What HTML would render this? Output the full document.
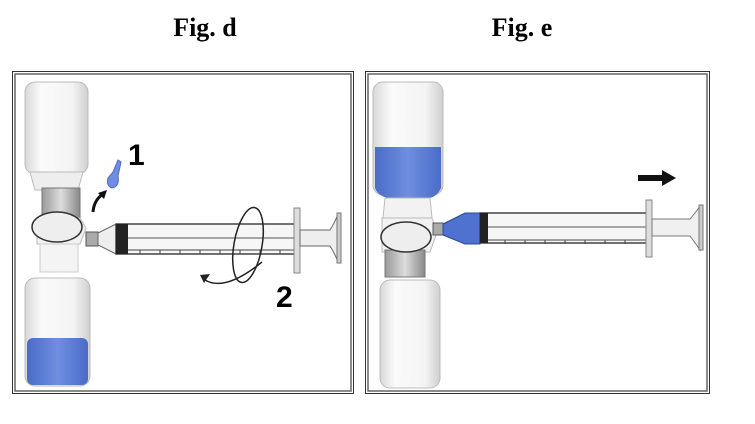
<!DOCTYPE html>
<html><head><style>
body{margin:0;background:#fff;width:755px;height:424px;overflow:hidden}
svg{display:block}
</style></head><body>
<svg width="755" height="424" viewBox="0 0 755 424" xmlns="http://www.w3.org/2000/svg">
<defs>
<linearGradient id="glass" x1="0" x2="1"><stop offset="0" stop-color="#d8d8d8"/><stop offset="0.25" stop-color="#fafafa"/><stop offset="0.75" stop-color="#f4f4f4"/><stop offset="1" stop-color="#cfcfcf"/></linearGradient>
<linearGradient id="blue" x1="0" x2="1"><stop offset="0" stop-color="#4a6cc8"/><stop offset="0.5" stop-color="#6f8ee0"/><stop offset="1" stop-color="#4a6cc8"/></linearGradient>
<linearGradient id="ring" x1="0" x2="1"><stop offset="0" stop-color="#999"/><stop offset="0.5" stop-color="#ddd"/><stop offset="1" stop-color="#888"/></linearGradient>
</defs>
<text x="205" y="36" font-family="Liberation Serif" font-weight="bold" font-size="26" text-anchor="middle">Fig. d</text>
<text x="522" y="36" font-family="Liberation Serif" font-weight="bold" font-size="26" text-anchor="middle">Fig. e</text>
<rect x="12.5" y="71.5" width="341" height="322" fill="#fff" stroke="#333" stroke-width="1"/>
<rect x="15" y="74" width="336" height="317" fill="none" stroke="#666" stroke-width="1.5"/>
<rect x="365.5" y="71.5" width="344" height="322" fill="#fff" stroke="#333" stroke-width="1"/>
<rect x="368" y="74" width="339" height="317" fill="none" stroke="#666" stroke-width="1.5"/>

<!-- Fig d -->
<rect x="25" y="82" width="63" height="92" rx="10" fill="url(#glass)" stroke="#bbb"/>
<path d="M30 172 L83 172 L78 190 L35 190 Z" fill="#eee" stroke="#bbb"/>
<rect x="42" y="188" width="38" height="30" fill="url(#ring)" stroke="#777"/>
<path d="M37 218 L80 218 L86 228 L80 244 L37 244 Z" fill="#f2f2f2" stroke="#bbb"/>
<rect x="40" y="244" width="38" height="28" fill="#f4f4f4" stroke="#ccc"/>
<ellipse cx="57" cy="227" rx="25" ry="15" fill="#eee" stroke="#333" stroke-width="1.5"/>
<rect x="25" y="278" width="65" height="108" rx="10" fill="url(#glass)" stroke="#bbb"/>
<rect x="27" y="338" width="61" height="47" rx="6" fill="url(#blue)"/>
<!-- syringe d -->
<rect x="86" y="232" width="12" height="14" fill="#aaa" stroke="#555"/>
<path d="M98 233 L116 224 L116 254 L98 245 Z" fill="#eee" stroke="#666"/>
<rect x="116" y="224" width="182" height="30" fill="#f6f6f6" stroke="#444" stroke-width="1.5"/>
<rect x="116" y="224" width="12" height="30" fill="#222"/>
<line x1="128" y1="238" x2="338" y2="238" stroke="#555"/>
<line x1="128" y1="250" x2="298" y2="250" stroke="#444"/>
<g stroke="#444">
<line x1="140" y1="250" x2="140" y2="254"/><line x1="160" y1="250" x2="160" y2="254"/><line x1="180" y1="250" x2="180" y2="254"/><line x1="200" y1="250" x2="200" y2="254"/><line x1="220" y1="250" x2="220" y2="254"/><line x1="240" y1="250" x2="240" y2="254"/><line x1="260" y1="250" x2="260" y2="254"/><line x1="280" y1="250" x2="280" y2="254"/></g>
<rect x="294" y="208" width="6" height="65" fill="#ddd" stroke="#888"/>
<path d="M300 230 L330 230 Q335 222 338 214 L338 262 Q335 254 330 246 L300 246 Z" fill="#eee" stroke="#666"/>
<rect x="337" y="213" width="4" height="50" fill="#ccc" stroke="#777"/>
<ellipse cx="248" cy="245" rx="14" ry="38" fill="none" stroke="#222" stroke-width="1.5" transform="rotate(10 248 245)"/>
<path d="M205 280 Q225 292 262 262" fill="none" stroke="#222" stroke-width="1.5"/>
<path d="M200 275 L210 274 L204 283 Z" fill="#222"/>
<path d="M93 212 Q94 200 103 194" fill="none" stroke="#111" stroke-width="3"/>
<path d="M98 193 L107 190 L104 199 Z" fill="#111"/>
<path d="M113 172 L118 160 L121 162 L118 176 Q120 186 112 188 Q106 186 108 178 Z" fill="#6f8ee0" stroke="#4a6cc8"/>
<text x="128" y="165" font-family="Liberation Sans" font-weight="bold" font-size="30">1</text>
<text x="276" y="307" font-family="Liberation Sans" font-weight="bold" font-size="30">2</text>

<!-- Fig e -->
<rect x="373" y="82" width="70" height="113" rx="10" fill="url(#glass)" stroke="#bbb"/>
<path d="M375 147 L441 147 L441 188 Q436 198 428 198 L388 198 Q378 196 375 188 Z" fill="url(#blue)"/>
<path d="M385 198 L430 198 L432 218 L383 218 Z" fill="#f2f2f2" stroke="#bbb"/>
<path d="M382 218 L432 218 L437 232 L430 252 L382 252 Z" fill="#f2f2f2" stroke="#bbb"/>
<rect x="385" y="250" width="40" height="27" fill="url(#ring)" stroke="#777"/>
<ellipse cx="406" cy="237" rx="25" ry="15" fill="#eee" stroke="#333" stroke-width="1.5"/>
<rect x="380" y="280" width="60" height="108" rx="10" fill="url(#glass)" stroke="#bbb"/>
<rect x="433" y="223" width="10" height="12" fill="#aaa" stroke="#555"/>
<path d="M443 224 L465 213 L480 213 L480 244 L465 244 L443 235 Z" fill="#4f72d0" stroke="#2a4a9a"/>
<rect x="480" y="213" width="170" height="30" fill="#f6f6f6" stroke="#444" stroke-width="1.5"/>
<rect x="480" y="213" width="8" height="30" fill="#222"/>
<line x1="488" y1="227" x2="700" y2="227" stroke="#555"/>
<line x1="488" y1="240" x2="650" y2="240" stroke="#444"/>
<g stroke="#444">
<line x1="505" y1="240" x2="505" y2="244"/><line x1="525" y1="240" x2="525" y2="244"/><line x1="545" y1="240" x2="545" y2="244"/><line x1="565" y1="240" x2="565" y2="244"/><line x1="585" y1="240" x2="585" y2="244"/><line x1="605" y1="240" x2="605" y2="244"/><line x1="625" y1="240" x2="625" y2="244"/></g>
<rect x="646" y="200" width="6" height="57" fill="#ddd" stroke="#888"/>
<path d="M652 219 L690 219 Q696 212 700 206 L700 250 Q696 244 690 236 L652 236 Z" fill="#f0f0f0" stroke="#777"/>
<rect x="699" y="205" width="4" height="45" fill="#ccc" stroke="#777"/>
<path d="M638 175 L662 175 L662 170 L676 178 L662 186 L662 181 L638 181 Z" fill="#111"/>
</svg>
</body></html>
